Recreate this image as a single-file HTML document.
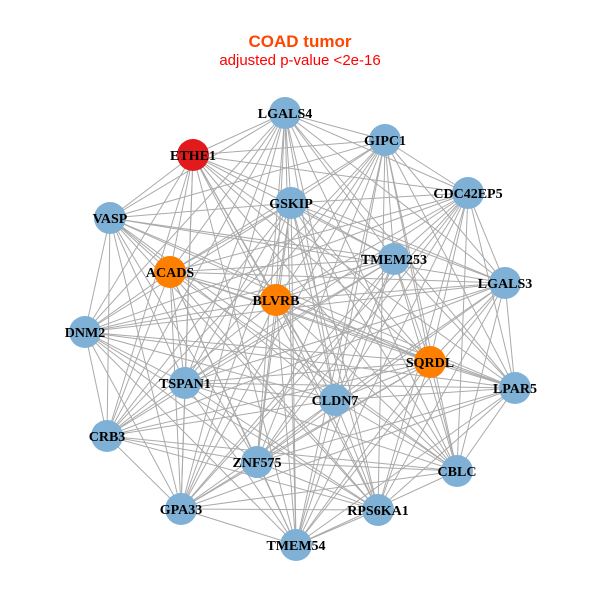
<!DOCTYPE html>
<html><head><meta charset="utf-8"><style>
html,body{margin:0;padding:0;background:#fff;width:600px;height:600px;overflow:hidden}
svg text{font-family:"Liberation Serif",serif;font-weight:bold;font-size:14px;text-anchor:middle;fill:#000}
</style></head><body>
<svg id="s" width="600" height="600" viewBox="0 0 600 600">
<text x="300" y="47" style="font-family:'Liberation Sans',sans-serif;font-size:17px;fill:#ff4500">COAD tumor</text>
<text x="300" y="65" style="font-family:'Liberation Sans',sans-serif;font-weight:normal;font-size:15px;fill:#ff0000">adjusted p-value &lt;2e-16</text>
<g id="e" stroke="#aaaaaa" stroke-width="1"></g>
<g id="n"></g>
<g>
<text x="285" y="118">LGALS4</text>
<text x="193" y="160">ETHE1</text>
<text x="385" y="145">GIPC1</text>
<text x="468" y="198">CDC42EP5</text>
<text x="110" y="223">VASP</text>
<text x="291" y="208">GSKIP</text>
<text x="394" y="264">TMEM253</text>
<text x="170" y="277">ACADS</text>
<text x="505" y="288">LGALS3</text>
<text x="276" y="305">BLVRB</text>
<text x="85" y="337">DNM2</text>
<text x="430" y="367">SQRDL</text>
<text x="185" y="388">TSPAN1</text>
<text x="335" y="405">CLDN7</text>
<text x="515" y="393">LPAR5</text>
<text x="107" y="441">CRB3</text>
<text x="257" y="467">ZNF575</text>
<text x="457" y="476">CBLC</text>
<text x="181" y="514">GPA33</text>
<text x="378" y="515">RPS6KA1</text>
<text x="296" y="550">TMEM54</text>
</g>
</svg>
<script>
var N=[[285,113,'b'],[193,155,'r'],[385,140,'b'],[468,193,'b'],[110,218,'b'],[291,203,'b'],[394,259,'b'],[170,272,'o'],[505,283,'b'],[276,300,'o'],[85,332,'b'],[430,362,'o'],[185,383,'b'],[335,400,'b'],[515,388,'b'],[107,436,'b'],[257,462,'b'],[457,471,'b'],[181,509,'b'],[378,510,'b'],[296,545,'b']];
var ns="http://www.w3.org/2000/svg",e=document.getElementById('e'),g=document.getElementById('n');
var col={b:'#7fb1d6',r:'#e31a1c',o:'#ff7f00'};
for(var i=0;i<N.length;i++)for(var j=i+1;j<N.length;j++){
 if((i*7+j*3)%11==0)continue;
 var l=document.createElementNS(ns,'line');
 l.setAttribute('x1',N[i][0]);l.setAttribute('y1',N[i][1]);l.setAttribute('x2',N[j][0]);l.setAttribute('y2',N[j][1]);e.appendChild(l);}
N.forEach(function(p){var c=document.createElementNS(ns,'circle');c.setAttribute('cx',p[0]);c.setAttribute('cy',p[1]);c.setAttribute('r',16);c.setAttribute('fill',col[p[2]]);g.appendChild(c);});
</script>
</body></html>
